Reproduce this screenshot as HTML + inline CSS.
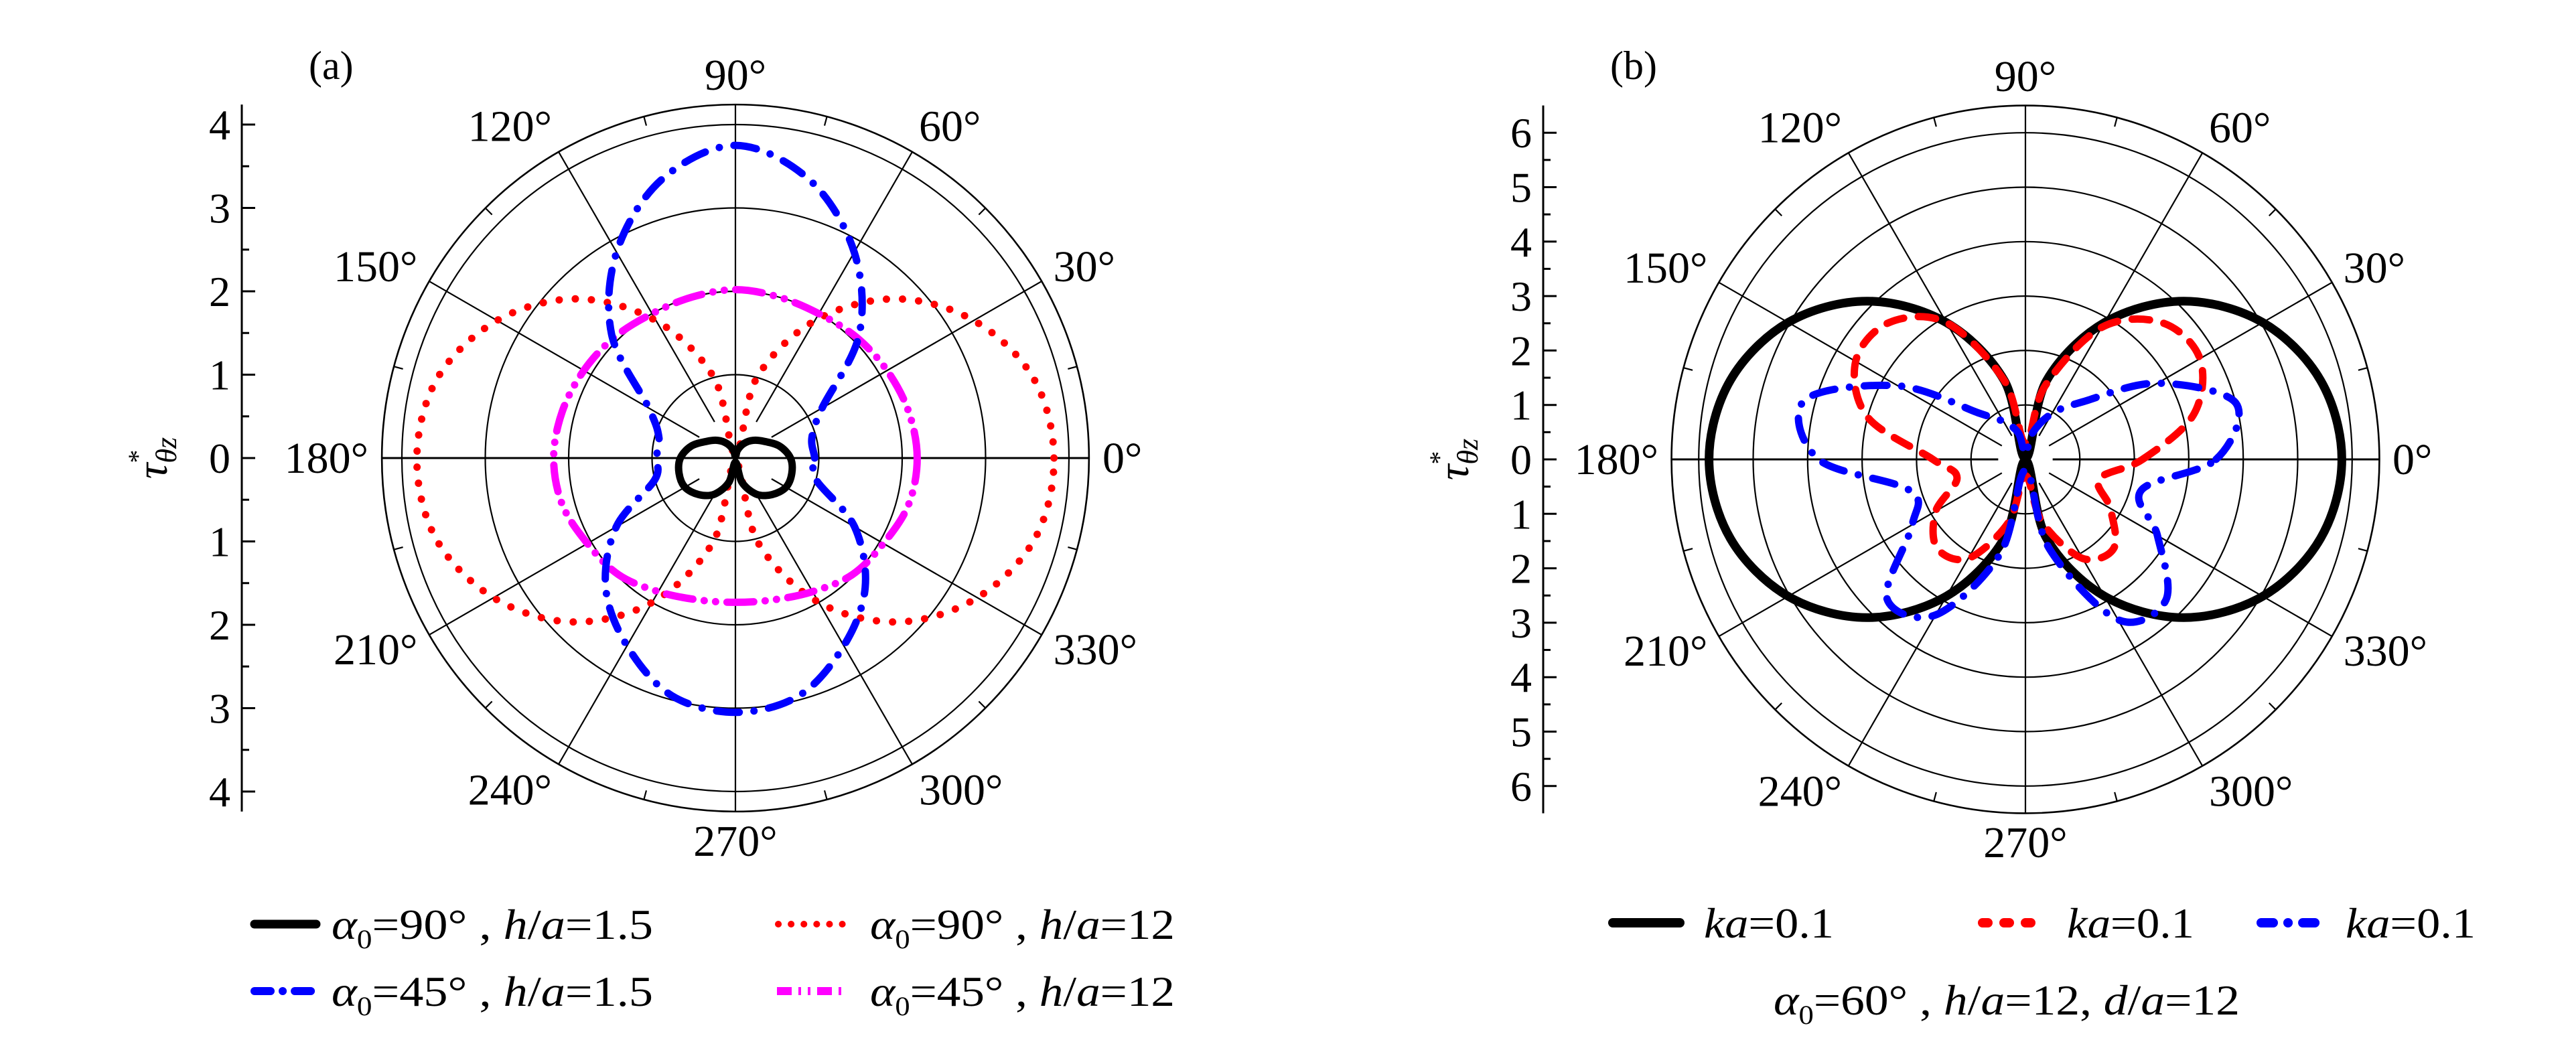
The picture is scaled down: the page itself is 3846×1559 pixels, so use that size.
<!DOCTYPE html>
<html><head><meta charset="utf-8"><style>
html,body{margin:0;padding:0;background:#fff}
svg{display:block}
text{font-family:"Liberation Serif","DejaVu Serif",serif;fill:#000}
</style></head><body>
<svg id="fig" width="3846" height="1559" viewBox="0 0 3846 1559" xmlns="http://www.w3.org/2000/svg" font-family="'Liberation Serif','DejaVu Serif',serif">
<g id="pa"></g>
<g id="pb"></g>
<g id="legend-a"></g>
<g id="legend-b"></g>
</svg>
<script>
// ---- data ----
const angles = [0,15,30,45,60,75,90,105,120,135,150,165,180,195,210,225,240,255,270,285,300,315,330,345];
// panel (a)
const aBlack90_15 = [0.66,0.55,0.4,0.3,0.2,0.1,0.02,0.1,0.2,0.3,0.4,0.55,0.66,0.7,0.7,0.62,0.5,0.3,0.05,0.3,0.5,0.62,0.7,0.7];
const aRed90_12   = [3.82,3.7,3.3,2.7,1.9,1.0,0.05,1.0,1.9,2.7,3.3,3.7,3.82,3.72,3.35,2.78,2.0,1.05,0.05,1.05,2.0,2.78,3.35,3.72];
const aBlue45_15  = [0.95,0.95,1.2,2.1,2.85,3.45,3.75,3.45,2.85,2.1,1.2,0.95,0.95,1.0,1.65,2.2,2.6,2.95,3.05,2.95,2.6,2.2,1.65,1.0];
const aMag45_12   = [2.18,2.15,2.1,2.05,2.0,2.0,2.02,2.0,2.0,2.05,2.1,2.15,2.18,2.15,2.05,1.98,1.85,1.76,1.73,1.76,1.85,1.98,2.05,2.15];
// panel (b)
const bBlack = [5.81,5.61,5.03,4.11,2.9,1.5,0.02,1.5,2.9,4.11,5.03,5.61,5.81,5.61,5.03,4.11,2.9,1.5,0.02,1.5,2.9,4.11,5.03,5.61];
const bRed   = [2.15,3.2,3.7,3.55,2.8,1.4,0.3,1.5,2.9,3.55,3.6,3.0,1.7,1.3,1.9,2.3,2.1,1.2,0.3,1.2,2.1,2.3,1.8,1.4];
const bBlue  = [3.5,4.0,2.8,1.5,0.97,0.5,0.1,0.5,0.8,1.2,2.7,4.2,3.8,2.2,2.4,3.6,3.3,1.8,0.2,1.7,3.4,3.65,2.8,2.2];
const aTicks = [4,3,2,1,0,1,2,3,4];
const bTicks = [6,5,4,3,2,1,0,1,2,3,4,5,6];
const angleLabels = ["0°","30°","60°","90°","120°","150°","180°","210°","240°","270°","300°","330°"];

const NS="http://www.w3.org/2000/svg";
function mk(tag, attrs, parent){
  const e=document.createElementNS(NS,tag);
  for(const k in attrs) e.setAttribute(k,attrs[k]);
  parent.appendChild(e); return e;
}
function panel(g, cx, cy, unit, nGrid, outerU, axisX, ticks, label){
  const outer=outerU*unit;
  const rad=a=>a*Math.PI/180;
  for(let i=1;i<=nGrid;i++){
    const c=mk('circle',{cx:cx,cy:cy,r:i*unit,fill:'none',stroke:'#000','stroke-width':2.2},g);
    
    
  }
  const oc=mk('circle',{cx:cx,cy:cy,r:outer,fill:'none',stroke:'#000','stroke-width':2.6},g);
  
  
  for(let a=0;a<360;a+=30){
    const r0=(a%90===0 && label==='(a)')?0:0.5*unit;
    const l=mk('line',{x1:cx+r0*Math.cos(rad(a)),y1:cy-r0*Math.sin(rad(a)),x2:cx+outer*Math.cos(rad(a)),y2:cy-outer*Math.sin(rad(a)),stroke:'#000','stroke-width':(a%180===0?3:2.2)},g);
    
    
  }
  for(let a=15;a<360;a+=30){
    const l=mk('line',{x1:cx+outer*Math.cos(rad(a)),y1:cy-outer*Math.sin(rad(a)),x2:cx+(outer-14)*Math.cos(rad(a)),y2:cy-(outer-14)*Math.sin(rad(a)),stroke:'#000','stroke-width':2.2},g);
    
    
  }
  angleLabels.forEach((t,i)=>{
    const a=i*30, c=Math.cos(rad(a)), s=Math.sin(rad(a));
    const R=548;
    const x=cx+R*c, y=cy-R*s+22-s*24;
    const anchor=c>0.1?'start':(c<-0.1?'end':'middle');
    const tx=mk('text',{x:x,y:y,'font-size':66,'text-anchor':anchor},g);
    tx.textContent=t;
    
    
  });
  const top=cy-outer, bot=cy+outer;
  const ax=mk('line',{x1:axisX,y1:top,x2:axisX,y2:bot,stroke:'#000','stroke-width':3},g);
  
  
  const n=(ticks.length-1)/2;
  ticks.forEach((v,i)=>{
    const y=cy+(i-n)*unit;
    const tl=mk('line',{x1:axisX,y1:y,x2:axisX+20,y2:y,stroke:'#000','stroke-width':3},g);
    
    
    const tx=mk('text',{x:axisX-17,y:y+22,'font-size':64,'text-anchor':'end'},g);
    tx.textContent=v;
    
    
    if(i<ticks.length-1){
      const ym=y+unit/2;
      const ml=mk('line',{x1:axisX,y1:ym,x2:axisX+11,y2:ym,stroke:'#000','stroke-width':3},g);
      
      
    }
  });
  const tt=mk('text',{x:0,y:0,'font-size':66,'text-anchor':'middle',transform:`translate(${axisX-112},${cy}) rotate(-90)`},g);
  tt.innerHTML='<tspan font-style="italic">τ</tspan><tspan font-size="40" dy="-30">*</tspan><tspan font-size="44" font-style="italic" dx="-20" dy="44">θz</tspan>';
  
  
  const pl=mk('text',{x:axisX+100,y:118,'font-size':60},g);
  pl.textContent=label;
  
  
  return {cx,cy,unit};
}
function curve(g, P, vals, style, name){
  const pts=angles.map((a,i)=>{const t=a*Math.PI/180;return [P.cx+vals[i]*P.unit*Math.cos(t), P.cy-vals[i]*P.unit*Math.sin(t)];});
  const N=pts.length; let d=`M${pts[0][0].toFixed(1)},${pts[0][1].toFixed(1)}`;
  for(let i=0;i<N;i++){
    const p0=pts[(i-1+N)%N],p1=pts[i],p2=pts[(i+1)%N],p3=pts[(i+2)%N];
    const c1=[p1[0]+(p2[0]-p0[0])/6,p1[1]+(p2[1]-p0[1])/6];
    const c2=[p2[0]-(p3[0]-p1[0])/6,p2[1]-(p3[1]-p1[1])/6];
    d+=` C${c1[0].toFixed(1)},${c1[1].toFixed(1)} ${c2[0].toFixed(1)},${c2[1].toFixed(1)} ${p2[0].toFixed(1)},${p2[1].toFixed(1)}`;
  }
  const p=mk('path',Object.assign({d:d,fill:'none','stroke-linecap':'round','stroke-linejoin':'round'},style),g);
  
  
}
const S={
  black:{stroke:'#000','stroke-width':11},
  dotted:{stroke:'#f00','stroke-width':11,'stroke-dasharray':'0.1 24'},
  dashdot:{stroke:'#00f','stroke-width':11,'stroke-dasharray':'34 22 0.1 22'},
  dashdotdot:{stroke:'#f0f','stroke-width':11,'stroke-dasharray':'40 17 0.1 17 0.1 17'},
  dashed:{stroke:'#f00','stroke-width':11,'stroke-dasharray':'26 22'},
  blackB:{stroke:'#000','stroke-width':13}
};
const ga=document.getElementById('pa'), gb=document.getElementById('pb');
const PA=panel(ga,1098,684,124.5,4,4.24,361,aTicks,'(a)');
curve(ga,PA,aRed90_12,S.dotted,'series-a90-h12');
curve(ga,PA,aMag45_12,S.dashdotdot,'series-a45-h12');
curve(ga,PA,aBlue45_15,S.dashdot,'series-a45-h1-5');
curve(ga,PA,aBlack90_15,S.black,'series-a90-h1-5');
const PB=panel(gb,3024,686,81.3,6,6.5,2304,bTicks,'(b)');
curve(gb,PB,bBlack,S.blackB,'series-ka-black');
curve(gb,PB,bRed,S.dashed,'series-ka-red');
curve(gb,PB,bBlue,S.dashdot,'series-ka-blue');

function legItem(g,x1,x2,y,style,html,tx,tlen,name){
  const l=mk('line',Object.assign({x1:x1,y1:y,x2:x2,y2:y,'stroke-linecap':'round'},style),g);
  
  
  const t=mk('text',{x:tx,y:y+22,'font-size':64,textLength:tlen,lengthAdjust:'spacingAndGlyphs'},g);
  t.innerHTML=html;
  
  
}
const la=document.getElementById('legend-a'), lb=document.getElementById('legend-b');
const A=(d,h)=>`<tspan font-style="italic">α</tspan><tspan font-size="40" dy="14">0</tspan><tspan dy="-14">=${d}° , </tspan><tspan font-style="italic">h</tspan>/<tspan font-style="italic">a</tspan>=${h}`;
legItem(la,380,472,1380,{stroke:'#000','stroke-width':13},A('90','1.5'),495,480,'legend-entry-a90-h1-5');
legItem(la,1162,1258,1380,{stroke:'#f00','stroke-width':10,'stroke-dasharray':'0.1 19'},A('90','12'),1299,455,'legend-entry-a90-h12');
legItem(la,380,472,1480,{stroke:'#00f','stroke-width':12,'stroke-dasharray':'24 18 0.1 18'},A('45','1.5'),495,480,'legend-entry-a45-h1-5');
legItem(la,1160,1258,1480,{stroke:'#f0f','stroke-width':12,'stroke-dasharray':'22 10 4 10 4 10','stroke-linecap':'butt'},A('45','12'),1299,455,'legend-entry-a45-h12');
const K='<tspan font-style="italic">ka</tspan>=0.1';
legItem(lb,2408,2508,1378,{stroke:'#000','stroke-width':14},K,2544,194,'legend-entry-ka-black');
legItem(lb,2960,3056,1378,{stroke:'#f00','stroke-width':14,'stroke-dasharray':'8 24'},K,3086,190,'legend-entry-ka-red');
legItem(lb,3376,3476,1378,{stroke:'#00f','stroke-width':14,'stroke-dasharray':'18 22 0.1 22'},K,3502,194,'legend-entry-ka-blue');
const note=mk('text',{x:2648,y:1515,'font-size':64,textLength:696,lengthAdjust:'spacingAndGlyphs'},lb);
note.innerHTML='<tspan font-style="italic">α</tspan><tspan font-size="40" dy="14">0</tspan><tspan dy="-14">=60° , </tspan><tspan font-style="italic">h</tspan>/<tspan font-style="italic">a</tspan>=12, <tspan font-style="italic">d</tspan>/<tspan font-style="italic">a</tspan>=12';


</script>
</body></html>
